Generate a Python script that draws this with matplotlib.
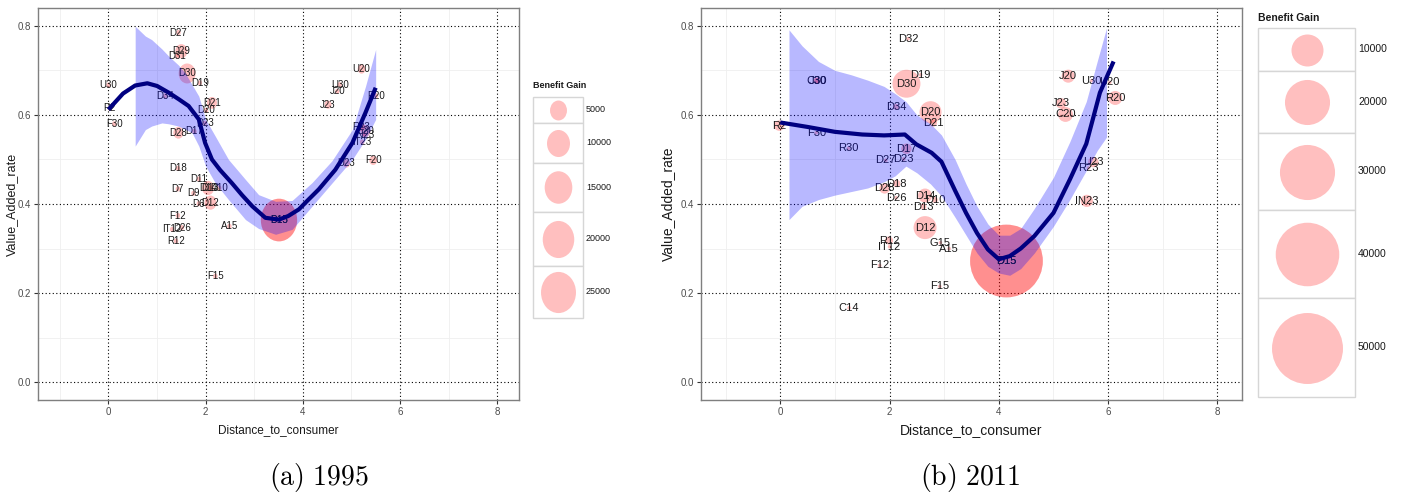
import numpy as np
import matplotlib
matplotlib.use('Agg')
import matplotlib.pyplot as plt
from matplotlib.path import Path
from matplotlib.patches import Rectangle
from matplotlib.transforms import Affine2D

plt.rcParams['font.family'] = ['Liberation Sans', 'DejaVu Sans']
plt.rcParams['mathtext.fontset'] = 'cm'

# ---------------- 1995 ----------------
labels_95 = ['U30', 'R2', 'F30', 'D27', 'D29', 'D31', 'D30', 'D19', 'D34', 'D21',
             'D20', 'D23', 'D28', 'D17', 'D18', 'D11', 'D7', 'D14', 'D13', 'D10',
             'D9', 'D6', 'D12', 'F12', 'D26', 'IT12', 'R12', 'A15', 'F15', 'D15',
             'D15', 'U20', 'U30', 'J20', 'J23', 'R20', 'R23', 'C20', 'IN23', 'IT23',
             'U23', 'F20']
dist_95 = [0.0, 0.03, 0.12, 1.44, 1.50, 1.41, 1.62, 1.88, 1.17, 2.13,
           2.01, 1.98, 1.44, 1.77, 1.43, 1.86, 1.43, 2.05, 2.10, 2.28,
           1.75, 1.86, 2.10, 1.43, 1.51, 1.31, 1.39, 2.49, 2.20, 3.51,
           3.51, 5.21, 4.76, 4.71, 4.52, 5.51, 5.21, 5.29, 5.26, 5.22,
           4.90, 5.45]
var_95 = [0.667, 0.615, 0.580, 0.785, 0.743, 0.732, 0.693, 0.672, 0.643, 0.627,
          0.610, 0.581, 0.560, 0.563, 0.480, 0.456, 0.434, 0.436, 0.436, 0.436,
          0.424, 0.401, 0.403, 0.374, 0.347, 0.343, 0.317, 0.350, 0.238, 0.364,
          0.364, 0.703, 0.668, 0.653, 0.623, 0.643, 0.573, 0.564, 0.556, 0.539,
          0.491, 0.498]
gain_95 = [100, 100, 100, 100, 2200, 100, 5000, 100, 100, 1400,
           100, 100, 1400, 100, 100, 100, 100, 2200, 100, 100,
           100, 100, 2200, 100, 100, 100, 100, 100, 100, 27000,
           27000, 700, 100, 100, 500, 100, 500, 1400, 100, 100,
           500, 700]

fit_x_95 = [0.0, 0.3, 0.55, 0.8, 1.0, 1.24, 1.45, 1.65, 1.86, 1.99, 2.13, 2.3,
            2.54, 2.75, 2.96, 3.23, 3.51, 3.7, 3.92, 4.1, 4.33, 4.67, 5.02, 5.29, 5.5]
fit_y_95 = [0.612, 0.648, 0.666, 0.671, 0.665, 0.650, 0.635, 0.620, 0.590, 0.537,
            0.500, 0.476, 0.447, 0.420, 0.395, 0.369, 0.365, 0.373, 0.388, 0.408,
            0.433, 0.477, 0.537, 0.605, 0.661]
band_x_95 = [0.55, 0.76, 0.89, 1.1, 1.24, 1.44, 1.58, 1.72, 1.86, 2.0, 2.2, 2.47,
             2.82, 3.09, 3.44, 3.78, 4.19, 4.6, 5.02, 5.29, 5.5]
band_lo_95 = [0.530, 0.567, 0.575, 0.582, 0.580, 0.575, 0.568, 0.560, 0.530, 0.485,
              0.447, 0.410, 0.365, 0.345, 0.332, 0.343, 0.395, 0.447, 0.500, 0.545, 0.590]
band_hi_95 = [0.799, 0.777, 0.769, 0.748, 0.732, 0.712, 0.694, 0.668, 0.642, 0.590,
              0.552, 0.500, 0.455, 0.421, 0.406, 0.408, 0.448, 0.497, 0.567, 0.664, 0.747]
legend_95 = [5000, 10000, 15000, 20000, 25000]

# ---------------- 2011 ----------------
labels_11 = ['D32', 'D19', 'D30', 'C30', 'J30', 'D34', 'D20', 'D21', 'R2', 'F30',
             'R30', 'D17', 'D27', 'D23', 'D18', 'D28', 'D26', 'D14', 'D10', 'D13',
             'D12', 'R12', 'IT12', 'G15', 'A15', 'F12', 'D15', 'D15', 'F15', 'C14',
             'J20', 'U30', 'U20', 'R20', 'J23', 'C20', 'U23', 'R23', 'IN23']
dist_11 = [2.34, 2.57, 2.31, 0.66, 0.68, 2.12, 2.75, 2.80, -0.02, 0.66,
           1.25, 2.31, 1.93, 2.26, 2.13, 1.91, 2.12, 2.65, 2.83, 2.62,
           2.65, 1.99, 2.00, 2.93, 3.09, 1.82, 4.14, 4.14, 2.92, 1.26,
           5.27, 5.70, 6.03, 6.13, 5.14, 5.22, 5.73, 5.64, 5.61]
var_11 = [0.771, 0.690, 0.670, 0.677, 0.677, 0.618, 0.606, 0.582, 0.576, 0.560,
          0.525, 0.524, 0.498, 0.501, 0.446, 0.435, 0.414, 0.419, 0.409, 0.394,
          0.347, 0.318, 0.304, 0.313, 0.300, 0.262, 0.272, 0.272, 0.215, 0.167,
          0.687, 0.677, 0.673, 0.638, 0.626, 0.601, 0.494, 0.481, 0.407]
gain_11 = [100, 100, 7600, 300, 300, 300, 4700, 500, 1000, 100,
           100, 1000, 100, 100, 500, 1000, 100, 1850, 300, 300,
           5100, 600, 100, 100, 100, 100, 52500, 52500, 100, 100,
           1600, 100, 100, 1850, 1000, 2100, 1000, 100, 1400]

fit_x_11 = [0.0, 0.5, 1.0, 1.5, 1.9, 2.28, 2.49, 2.77, 2.95, 3.2, 3.4, 3.6,
            3.8, 4.0, 4.2, 4.4, 4.65, 5.0, 5.3, 5.6, 5.85, 6.1]
fit_y_11 = [0.583, 0.573, 0.562, 0.556, 0.554, 0.556, 0.534, 0.515, 0.495, 0.430,
            0.380, 0.335, 0.298, 0.276, 0.283, 0.300, 0.328, 0.380, 0.455, 0.535,
            0.650, 0.720]
band_x_11 = [0.16, 0.4, 0.7, 1.0, 1.3, 1.6, 1.9, 2.1, 2.3, 2.5, 2.75, 2.95,
             3.2, 3.4, 3.6, 3.8, 4.0, 4.2, 4.4, 4.65, 5.0, 5.3, 5.6, 5.8, 5.97]
band_lo_11 = [0.365, 0.395, 0.410, 0.420, 0.428, 0.436, 0.450, 0.463, 0.485, 0.470,
              0.445, 0.418, 0.370, 0.330, 0.290, 0.260, 0.245, 0.240, 0.255, 0.290,
              0.350, 0.410, 0.475, 0.520, 0.550]
band_hi_11 = [0.791, 0.755, 0.720, 0.700, 0.690, 0.678, 0.664, 0.648, 0.630, 0.600,
              0.580, 0.555, 0.500, 0.445, 0.395, 0.355, 0.330, 0.330, 0.345, 0.390,
              0.460, 0.540, 0.630, 0.720, 0.795]
legend_11 = [10000, 20000, 30000, 40000, 50000]

W, H = 1404, 497
PT = 0.72  # points per pixel at dpi 100

# left panel of the source image is squeezed sideways, so its circles are ellipses
squeezed = Path.unit_circle().transformed(Affine2D().scale(0.85, 1.0))


def size_95(v):
    w = 2.4 + 0.206 * np.sqrt(np.asarray(v, dtype=float))
    return (w / 0.85 * PT) ** 2


def size_11(v):
    d = 0.45 + 0.3155 * np.sqrt(np.asarray(v, dtype=float))
    return (d * PT) ** 2


fig = plt.figure(figsize=(W / 100, H / 100), dpi=100)


def px_axes(l, t, r, b):
    return fig.add_axes([l / W, 1 - b / H, (r - l) / W, (b - t) / H])


def draw_panel(ax, labels, dist, var, gain, fx, fy, bx, blo, bhi, size_fn, marker, fs):
    ax.set_xlim(-1.45, 8.45)
    ax.set_ylim(-0.04, 0.84)
    ax.set_xticks([0, 2, 4, 6, 8])
    ax.set_yticks([0, 0.2, 0.4, 0.6, 0.8])
    ax.set_yticklabels(['0.0', '0.2', '0.4', '0.6', '0.8'])
    ax.set_xticks([-1, 1, 3, 5, 7], minor=True)
    ax.set_yticks([0.1, 0.3, 0.5, 0.7], minor=True)
    ax.grid(which='minor', color='#EFEFEF', lw=0.6)
    ax.grid(which='major', color='black', lw=0.8, ls=(0, (1, 2.2)))
    ax.set_axisbelow(True)
    ax.tick_params(which='minor', length=0)
    ax.tick_params(which='major', length=3, width=0.8, color='#333333',
                   labelsize=7, labelcolor='#4D4D4D', pad=2)
    for s in ax.spines.values():
        s.set_color('#7F7F7F')
        s.set_linewidth(1.0)
    ax.scatter(dist, var, s=size_fn(gain), marker=marker, color='red',
               alpha=0.25, lw=0, zorder=2)
    for lab, x, y in zip(labels, dist, var):
        ax.text(x, y, lab, ha='center', va='center', fontsize=fs,
                color='#1A1A1A', zorder=3)
    ax.fill_between(bx, blo, bhi, color='blue', alpha=0.28, lw=0, zorder=4)
    ax.plot(fx, fy, color='#000080', lw=3, solid_capstyle='butt', zorder=5)


ax95 = px_axes(38, 8, 519, 400)
ax11 = px_axes(701, 8, 1242, 400)
draw_panel(ax95, labels_95, dist_95, var_95, gain_95, fit_x_95, fit_y_95,
           band_x_95, band_lo_95, band_hi_95, size_95, squeezed, 7)
draw_panel(ax11, labels_11, dist_11, var_11, gain_11, fit_x_11, fit_y_11,
           band_x_11, band_lo_11, band_hi_11, size_11, 'o', 8)

# overlay in pixel units for legends, axis titles and captions
lay = fig.add_axes([0, 0, 1, 1])
lay.set_xlim(0, W)
lay.set_ylim(H, 0)
lay.axis('off')


def draw_legend(x0, x1, bounds, values, size_fn, marker, title_y, fs, tfs):
    lay.text(x0, title_y, 'Benefit Gain', fontsize=tfs, fontweight='bold',
             ha='left', va='center', color='#1A1A1A')
    for v, top, bot in zip(values, bounds[:-1], bounds[1:]):
        lay.add_patch(Rectangle((x0, top), x1 - x0, bot - top, fc='white',
                                ec='#D6D6D6', lw=1))
        lay.scatter([(x0 + x1) / 2], [(top + bot) / 2], s=size_fn(v),
                    marker=marker, color='red', alpha=0.25, lw=0)
        lay.text(x1 + 3, (top + bot) / 2, str(v), fontsize=fs, ha='left',
                 va='center', color='#1A1A1A')


draw_legend(533, 583, [96.7, 122.7, 163, 211.7, 266, 318], legend_95, size_95,
            squeezed, 85, 6.5, 6.5)
draw_legend(1258, 1355, [28, 71, 133, 210, 298, 397], legend_11, size_11,
            'o', 18, 7.5, 7.5)

lay.text(278, 430, 'Distance_to_consumer', fontsize=8.5, ha='center', va='center', color='#1A1A1A')
lay.text(971, 430, 'Distance_to_consumer', fontsize=10, ha='center', va='center', color='#1A1A1A')
lay.text(12, 204, 'Value_Added_rate', fontsize=9, rotation=90, ha='center', va='center', color='#1A1A1A')
lay.text(668, 204, 'Value_Added_rate', fontsize=10, rotation=90, ha='center', va='center', color='#1A1A1A')

lay.text(319, 478, r'$\mathrm{(a)\ 1995}$', fontsize=20, ha='center', va='center')
lay.text(970, 478, r'$\mathrm{(b)\ 2011}$', fontsize=20, ha='center', va='center')

fig.savefig('out.png', dpi=100)
